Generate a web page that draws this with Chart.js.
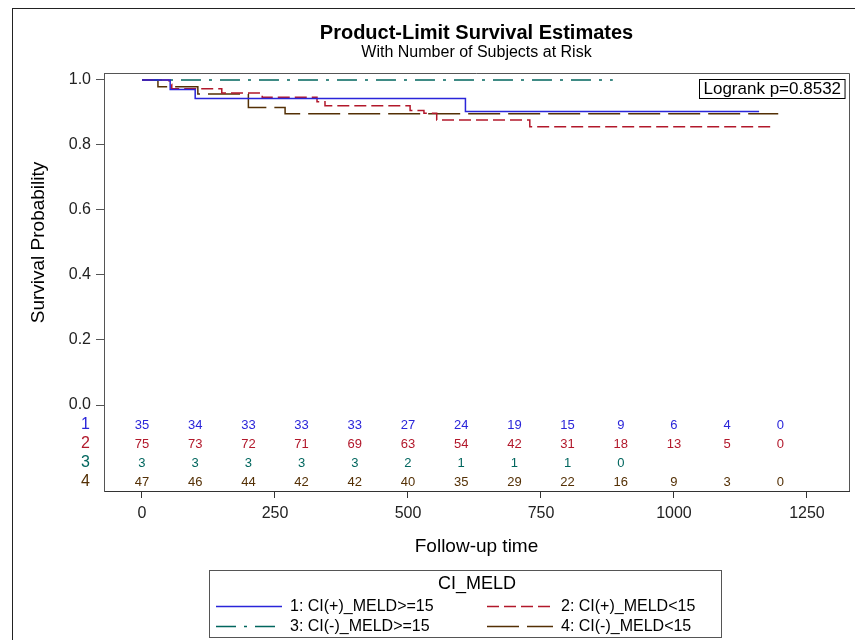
<!DOCTYPE html>
<html lang="en">
<head>
  <meta charset="UTF-8">
  <title>Product-Limit Survival Estimates</title>
  <script src="https://cdn.jsdelivr.net/npm/chart.js@4"></script>
  <style>
    body { margin: 0; background: #fff; }
    #wrap { width: 855px; height: 640px; }
  </style>
</head>
<body>
  <div id="wrap"><canvas id="kmChart" width="855" height="640"></canvas></div>

  <script>
    // Groups (strata)
    const groupNames = ['1: CI(+)_MELD>=15', '2: CI(+)_MELD<15', '3: CI(-)_MELD>=15', '4: CI(-)_MELD<15'];
    const groupColors = ['#2A25D9', '#B2182B', '#01665E', '#543005'];
    const groupDashes = [[], [12, 5], [20, 8, 3, 8], [32, 8]];

    // Kaplan-Meier steps: event times and survival after each step
    const time1 = [0, 53, 100, 608, 1160];
    const surv1 = [1, 0.971, 0.943, 0.903, 0.903];
    const time2 = [0, 51, 56, 150, 226, 329, 344, 504, 530, 554, 729, 1190];
    const surv2 = [1, 0.987, 0.973, 0.960, 0.947, 0.933, 0.921, 0.906, 0.898, 0.877, 0.856, 0.856];
    const time3 = [0, 885];
    const surv3 = [1, 1];
    const time4 = [0, 30, 105, 200, 269, 1196];
    const surv4 = [1, 0.979, 0.957, 0.915, 0.896, 0.896];

    // Number of subjects at risk
    const riskTimes = [0, 100, 200, 300, 400, 500, 600, 700, 800, 900, 1000, 1100, 1200];
    const atRisk1 = [35, 34, 33, 33, 33, 27, 24, 19, 15, 9, 6, 4, 0];
    const atRisk2 = [75, 73, 72, 71, 69, 63, 54, 42, 31, 18, 13, 5, 0];
    const atRisk3 = [3, 3, 3, 3, 3, 2, 1, 1, 1, 0];
    const atRisk4 = [47, 46, 44, 42, 42, 40, 35, 29, 22, 16, 9, 3, 0];

    // Axis ticks
    const xTicks = [0, 250, 500, 750, 1000, 1250];
    const yTicks = [0, 0.2, 0.4, 0.6, 0.8, 1.0];

    const logrankText = 'Logrank p=0.8532';
    const FONT = 'Liberation Sans, Arial, sans-serif';

    const times = [time1, time2, time3, time4];
    const survs = [surv1, surv2, surv3, surv4];
    const atRisk = [atRisk1, atRisk2, atRisk3, atRisk4];

    const datasets = groupNames.map((name, i) => ({
      label: name,
      data: times[i].map((t, j) => ({ x: t, y: survs[i][j] })),
      borderColor: groupColors[i],
      borderDash: groupDashes[i],
      borderWidth: 1.5,
      pointRadius: 0,
      stepped: 'before',
      fill: false
    }));

    // titles, y title, at-risk table, logrank box, frame and legend
    const decorPlugin = {
      id: 'decor',
      afterDraw(chart) {
        const ctx = chart.ctx;
        const area = chart.chartArea;
        const xs = chart.scales.x, ys = chart.scales.y;
        const cx = (area.left + area.right) / 2;
        ctx.save();

        // outer border
        ctx.strokeStyle = '#222';
        ctx.lineWidth = 1;
        ctx.strokeRect(12.5, 8.5, 900, 700);

        // titles
        ctx.fillStyle = '#000';
        ctx.textAlign = 'center';
        ctx.textBaseline = 'middle';
        ctx.font = 'bold 20px ' + FONT;
        ctx.fillText('Product-Limit Survival Estimates', cx, 33);
        ctx.font = '16px ' + FONT;
        ctx.fillText('With Number of Subjects at Risk', cx, 53);

        // y axis title, centred on the 0..1 range
        const yMid = (ys.getPixelForValue(0) + ys.getPixelForValue(1)) / 2;
        ctx.save();
        ctx.translate(39, yMid);
        ctx.rotate(-Math.PI / 2);
        ctx.font = '19px ' + FONT;
        ctx.fillText('Survival Probability', 0, 0);
        ctx.restore();

        // top and right frame lines
        ctx.strokeStyle = '#555';
        ctx.beginPath();
        ctx.moveTo(area.left, Math.round(area.top) + 0.5);
        ctx.lineTo(Math.round(area.right) + 0.5, Math.round(area.top) + 0.5);
        ctx.lineTo(Math.round(area.right) + 0.5, area.bottom);
        ctx.stroke();

        // logrank box
        ctx.font = '17px ' + FONT;
        const tw = ctx.measureText(logrankText).width;
        const bx = Math.round(area.right - 4 - tw - 8) + 0.5;
        const by = Math.round(area.top + 6) + 0.5;
        ctx.strokeStyle = '#000';
        ctx.strokeRect(bx, by, tw + 8, 19);
        ctx.textAlign = 'left';
        ctx.fillText(logrankText, bx + 4, by + 10);

        // at-risk table
        const y0 = ys.getPixelForValue(0);
        atRisk.forEach((row, i) => {
          const ry = y0 + 20 + i * 19;
          ctx.fillStyle = groupColors[i];
          ctx.font = '16px ' + FONT;
          ctx.textAlign = 'right';
          ctx.fillText(String(i + 1), area.left - 14, ry);
          ctx.font = '13px ' + FONT;
          ctx.textAlign = 'center';
          row.forEach((n, j) => {
            ctx.fillText(String(n), xs.getPixelForValue(riskTimes[j]), ry);
          });
        });

        // legend
        ctx.strokeStyle = '#555';
        ctx.strokeRect(209.5, 570.5, 512, 67);
        ctx.fillStyle = '#000';
        ctx.textAlign = 'center';
        ctx.font = '18px ' + FONT;
        ctx.fillText('CI_MELD', 477, 584);
        ctx.font = '16px ' + FONT;
        ctx.textAlign = 'left';
        const cols = [216, 487];
        const rows = [606, 626];
        datasets.forEach((ds, i) => {
          const lx = cols[i % 2], ly = rows[Math.floor(i / 2)] + 0.5;
          ctx.strokeStyle = ds.borderColor;
          ctx.lineWidth = 1.5;
          ctx.setLineDash(ds.borderDash);
          ctx.beginPath();
          ctx.moveTo(lx, ly);
          ctx.lineTo(lx + 66, ly);
          ctx.stroke();
          ctx.setLineDash([]);
          ctx.fillStyle = '#000';
          ctx.fillText(ds.label, lx + 74, ly);
        });
        ctx.restore();
      }
    };

    Chart.defaults.font.family = FONT;

    new Chart(document.getElementById('kmChart'), {
      type: 'line',
      data: { datasets: datasets },
      options: {
        responsive: false,
        animation: false,
        layout: { padding: { left: 25, top: 73, right: 6, bottom: 80 } },
        scales: {
          x: {
            type: 'linear',
            min: -71.4,
            max: 1329,
            afterBuildTicks: s => { s.ticks = xTicks.map(v => ({ value: v })); },
            afterFit: s => { s.height = 69; },
            ticks: { font: { size: 16 }, color: '#222', padding: 6, maxRotation: 0, autoSkip: false, callback: v => String(v) },
            grid: { drawOnChartArea: false, drawTicks: true, tickLength: 7, color: '#333' },
            border: { display: true, color: '#333' },
            title: { display: true, text: 'Follow-up time', font: { size: 19 }, color: '#000', padding: { top: 4, bottom: 2 } }
          },
          y: {
            min: -0.2646,
            max: 1.0215,
            afterBuildTicks: s => { s.ticks = yTicks.map(v => ({ value: v })); },
            afterFit: s => { s.width = 79; },
            ticks: { font: { size: 16 }, color: '#222', padding: 5, callback: v => v.toFixed(1) },
            grid: { drawOnChartArea: false, drawTicks: true, tickLength: 8, color: '#555' },
            border: { display: true, color: '#555' }
          }
        },
        plugins: {
          legend: { display: false },
          tooltip: { enabled: false }
        }
      },
      plugins: [decorPlugin]
    });
  </script>
</body>
</html>
